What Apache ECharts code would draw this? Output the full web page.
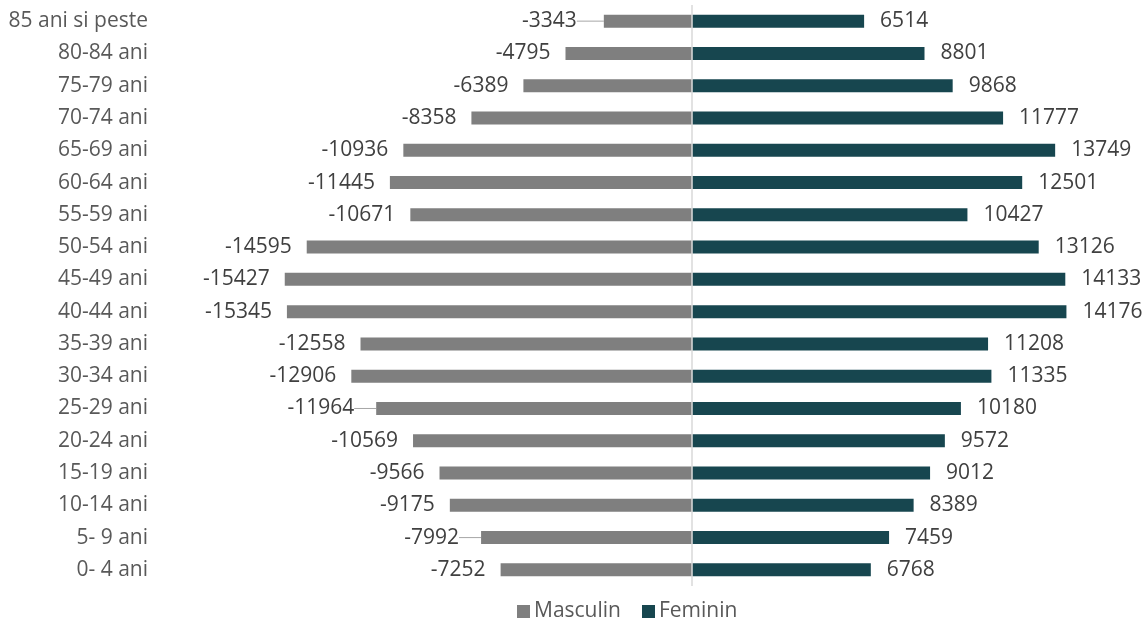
<!DOCTYPE html>
<html>
<head>
<meta charset="utf-8">
<script src="https://cdn.jsdelivr.net/npm/echarts@6/dist/echarts.min.js"></script>
<style>
html,body{margin:0;padding:0;background:#fff;}
#chart{width:1146px;height:618px;}
</style>
</head>
<body>
<div id="chart"></div>
<script>
var categories = ["0- 4 ani","5- 9 ani","10-14 ani","15-19 ani","20-24 ani","25-29 ani","30-34 ani","35-39 ani","40-44 ani","45-49 ani","50-54 ani","55-59 ani","60-64 ani","65-69 ani","70-74 ani","75-79 ani","80-84 ani","85 ani si peste"];
var masculin = [-7252,-7992,-9175,-9566,-10569,-11964,-12906,-12558,-15345,-15427,-14595,-10671,-11445,-10936,-8358,-6389,-4795,-3343];
var feminin = [6768,7459,8389,9012,9572,10180,11335,11208,14176,14133,13126,10427,12501,13749,11777,9868,8801,6514];
var seriesNames = ["Masculin","Feminin"];
// labels that Excel pulled away from the bar (drawn with a leader line)
var movedLabels = [1,5,17];

var FONT = "'Open Sans', sans-serif";
var masculinItems = masculin.map(function(v, i){
  var moved = movedLabels.indexOf(i) >= 0;
  return {value:v, labelLine:{show:moved}};
});

var chart = echarts.init(document.getElementById('chart'), null, {renderer:'canvas'});
chart.setOption({
  animation:false,
  backgroundColor:'#ffffff',
  grid:{left:164,right:5,top:5,bottom:32,containLabel:false},
  legend:{
    data:seriesNames,
    left:512, top:596,
    icon:'rect', itemWidth:13, itemHeight:13, itemGap:21,
    textStyle:{fontFamily:FONT,fontSize:21,color:'#595959',padding:[0,0,0,-1]}
  },
  xAxis:{
    type:'value', min:-20000, max:17000,
    show:false,
    splitLine:{show:false}
  },
  yAxis:{
    type:'category', data:categories,
    axisLine:{show:false,onZero:false},
    axisTick:{show:false},
    axisLabel:{fontFamily:FONT,fontSize:21,color:'#595959',margin:16}
  },
  series:[
    {
      name:seriesNames[0], type:'bar', data:masculinItems, barWidth:13, barGap:'-100%',
      itemStyle:{color:'#7f7f7f'},
      label:{show:true,position:'left',distance:15,fontFamily:FONT,fontSize:21,color:'#404040'},
      labelLine:{show:false,lineStyle:{color:'#a6a6a6',width:1}},
      labelLayout:function(p){
        if (p.dataIndex === 17) return {dx:-12};
        if (movedLabels.indexOf(p.dataIndex) >= 0) return {dx:-7};
        return {};
      },
      markLine:{
        silent:true, symbol:['none','none'],
        label:{show:false},
        lineStyle:{color:'#d9d9d9',width:1.5,type:'solid'},
        data:[{xAxis:0}]
      },
      z:2
    },
    {
      name:seriesNames[1], type:'bar', data:feminin, barWidth:13,
      itemStyle:{color:'#17464f'},
      label:{show:true,position:'right',distance:16,fontFamily:FONT,fontSize:21,color:'#404040'},
      z:2
    }
  ]
});
</script>
</body>
</html>
